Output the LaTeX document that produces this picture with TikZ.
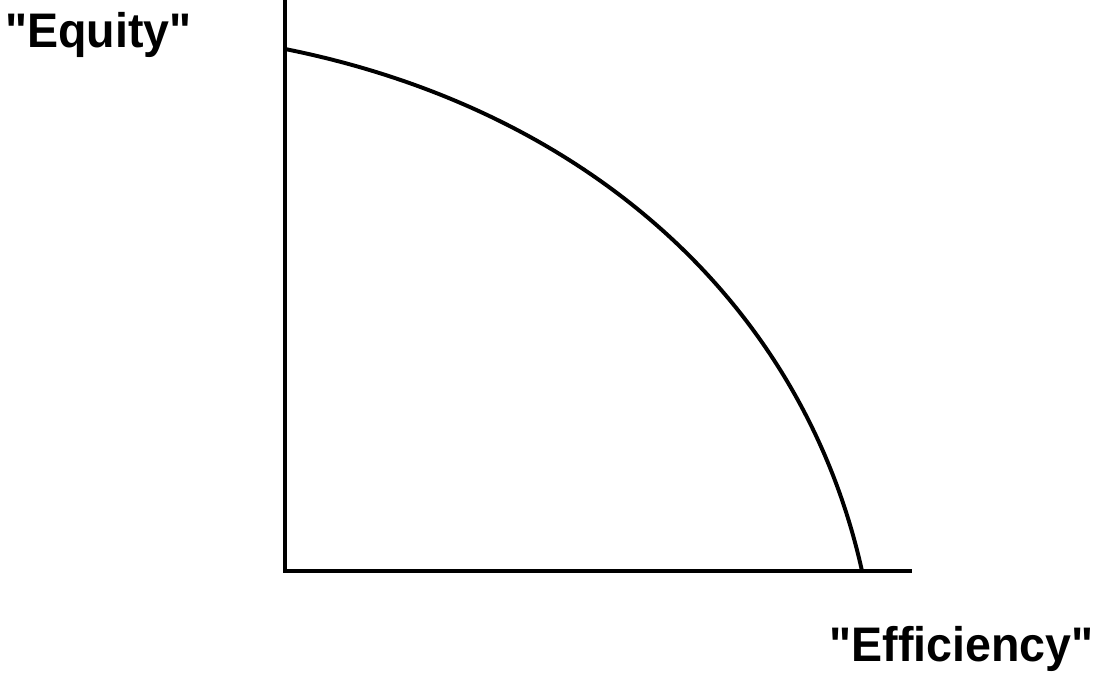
\documentclass[tikz,border=0pt]{standalone}
\usepackage{fontspec}
\setmainfont{Liberation Sans}
\usetikzlibrary{positioning}
\tikzset{
    axis/.style={line width=2.8pt},
    frontier/.style={line width=2.8pt},
    axislabel/.style={inner sep=0pt, xscale=0.96, font=\fontsize{34.5}{40}\selectfont\bfseries}
}

\begin{document}
\begin{tikzpicture}[x=0.025cm, y=-0.025cm]
\useasboundingbox (0,0) rectangle (1097,676);

\coordinate (origin) at (285,571);
\coordinate (ytop) at (285,0);
\coordinate (xend) at (912,571);
\coordinate (eqmax) at (285,49);
\coordinate (effmax) at (862,571);

\draw[axis] (ytop) -- (origin) -- (xend);
\draw[frontier] (eqmax) .. controls (585,109) and (802,301) .. (effmax);

\node[axislabel, anchor=base west] (equity) at (5,48) {\textquotedbl Equity\textquotedbl};
\node[axislabel, anchor=base east] (efficiency) at (1094,661) {\textquotedbl Efficiency\textquotedbl};

\end{tikzpicture}
\end{document}
